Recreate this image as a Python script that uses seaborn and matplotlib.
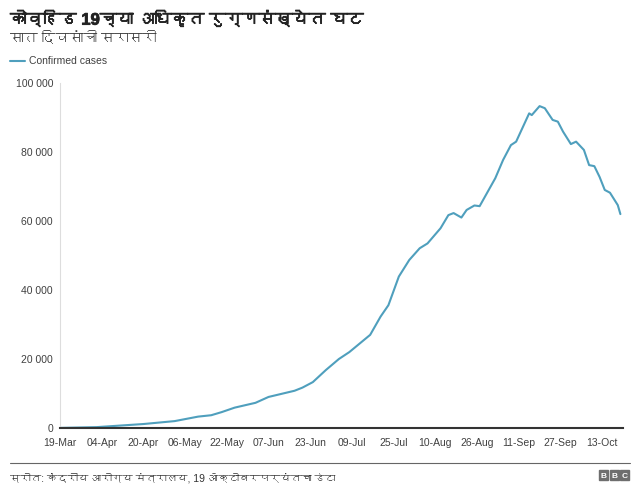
# covid_india_marathi.py
import numpy as np
import pandas as pd
import matplotlib
matplotlib.use("Agg")
import matplotlib.pyplot as plt
import matplotlib.dates as mdates
import matplotlib.ticker as mticker
import matplotlib.patheffects as pe
from matplotlib import font_manager
from matplotlib.lines import Line2D
from matplotlib.patches import Rectangle
import seaborn as sns
from fontTools.ttLib import TTFont

TITLE = "कोव्हिड 19च्या अधिकृत रुग्णसंख्येत घट"
SUBTITLE = "सात दिवसांची सरासरी"
SOURCE = "स्रोत: केंद्रीय आरोग्य मंत्रालय, 19 ऑक्टोबरपर्यंतचा डेटा"
SERIES = "Confirmed cases"

dates = ["2020-03-19", "2020-04-02", "2020-04-10", "2020-04-20", "2020-05-02",
         "2020-05-11", "2020-05-16", "2020-05-20", "2020-05-25", "2020-06-02",
         "2020-06-07", "2020-06-12", "2020-06-17", "2020-06-20", "2020-06-24",
         "2020-06-29", "2020-07-04", "2020-07-08", "2020-07-12", "2020-07-16",
         "2020-07-20", "2020-07-23", "2020-07-27", "2020-07-31", "2020-08-04",
         "2020-08-07", "2020-08-12", "2020-08-15", "2020-08-17", "2020-08-20",
         "2020-08-22", "2020-08-25", "2020-08-27", "2020-09-02", "2020-09-05",
         "2020-09-08", "2020-09-10", "2020-09-15", "2020-09-16", "2020-09-19",
         "2020-09-21", "2020-09-24", "2020-09-26", "2020-09-28", "2020-10-01",
         "2020-10-03", "2020-10-06", "2020-10-08", "2020-10-10", "2020-10-12",
         "2020-10-14", "2020-10-16", "2020-10-19", "2020-10-20"]
cases = [30, 250, 650, 1150, 2000,
         3300, 3700, 4600, 5900, 7300,
         9000, 9900, 10800, 11700, 13300,
         16800, 20000, 22000, 24500, 27000,
         32300, 35600, 43900, 48700, 52100,
         53500, 57900, 61700, 62300, 61000,
         63200, 64500, 64300, 72400, 77700,
         82000, 83000, 91200, 90700, 93300,
         92700, 89300, 88800, 85900, 82300,
         83000, 80600, 76200, 75900, 72800,
         69000, 68200, 64600, 62000]

x_ticks = pd.date_range("2020-03-19", "2020-10-13", freq="16D")
y_ticks = [0, 20000, 40000, 60000, 80000, 100000]


def find_deva_font():
    for f in font_manager.fontManager.ttflist:
        try:
            tt = TTFont(f.fname, fontNumber=0, lazy=True)
            cmap = tt.getBestCmap()
            if cmap and 0x0915 in cmap:
                return f.name
        except Exception:
            pass
    return None


sns.set_style("white")
deva = find_deva_font()
fams = ["Liberation Sans", "DejaVu Sans"]
if deva:
    fams = ["Liberation Sans", deva, "DejaVu Sans"]
plt.rcParams["font.family"] = fams

df = pd.DataFrame({"date": pd.to_datetime(dates), "cases": cases})

fig = plt.figure(figsize=(6.4, 4.92), dpi=100)
ax = fig.add_axes([60 / 640, 1 - 428 / 492, 563 / 640, 345 / 492])

line_color = "#4f9fbd"
sns.lineplot(data=df, x="date", y="cases", ax=ax, color=line_color, linewidth=1.5)

ax.set_xlim(pd.Timestamp("2020-03-19"), pd.Timestamp("2020-10-21"))
ax.set_ylim(0, 100000)
ax.set_xticks(x_ticks)
ax.xaxis.set_major_formatter(mdates.DateFormatter("%d-%b"))
ax.set_yticks(y_ticks)
ax.yaxis.set_major_formatter(mticker.FuncFormatter(lambda v, p: f"{int(v):,}".replace(",", " ")))
ax.tick_params(axis="both", length=0, labelsize=7.5, labelcolor="#404040")
ax.tick_params(axis="x", pad=7)
ax.tick_params(axis="y", pad=5)
ax.set_xlabel("")
ax.set_ylabel("")
for s in ["top", "right"]:
    ax.spines[s].set_visible(False)
ax.spines["left"].set_color("#dddddd")
ax.spines["left"].set_linewidth(0.8)
ax.spines["bottom"].set_color("#333333")
ax.spines["bottom"].set_linewidth(1.5)
if ax.get_legend():
    ax.get_legend().remove()

# title block
fig.text(10 / 640, 1 - 19 / 492, TITLE, fontsize=12, fontweight="bold",
         color="#222222", va="center", ha="left",
         path_effects=[pe.withStroke(linewidth=0.6, foreground="#222222")])
fig.text(10 / 640, 1 - 38 / 492, SUBTITLE, fontsize=10, color="#404040",
         va="center", ha="left")

# legend
fig.add_artist(Line2D([10 / 640, 25 / 640], [1 - 61 / 492, 1 - 61 / 492],
                      color=line_color, linewidth=1.5, transform=fig.transFigure))
fig.text(29 / 640, 1 - 61 / 492, SERIES, fontsize=7.5, color="#404040",
         va="center", ha="left")

# footer
fig.add_artist(Line2D([10 / 640, 630 / 640], [1 - 463 / 492, 1 - 463 / 492],
                      color="#666666", linewidth=0.8, transform=fig.transFigure))
fig.text(10 / 640, 1 - 478 / 492, SOURCE, fontsize=7.5, color="#333333",
         va="center", ha="left")
for i, ch in enumerate("BBC"):
    x0 = 599 + i * 10.5
    fig.add_artist(Rectangle((x0 / 640, 1 - 480 / 492), 9 / 640, 10 / 492,
                             color="#6e6e6e", transform=fig.transFigure))
    fig.text((x0 + 4.5) / 640, 1 - 475 / 492, ch, fontsize=6, fontweight="bold",
             color="white", va="center_baseline", ha="center")

fig.savefig("out.png", dpi=100)
